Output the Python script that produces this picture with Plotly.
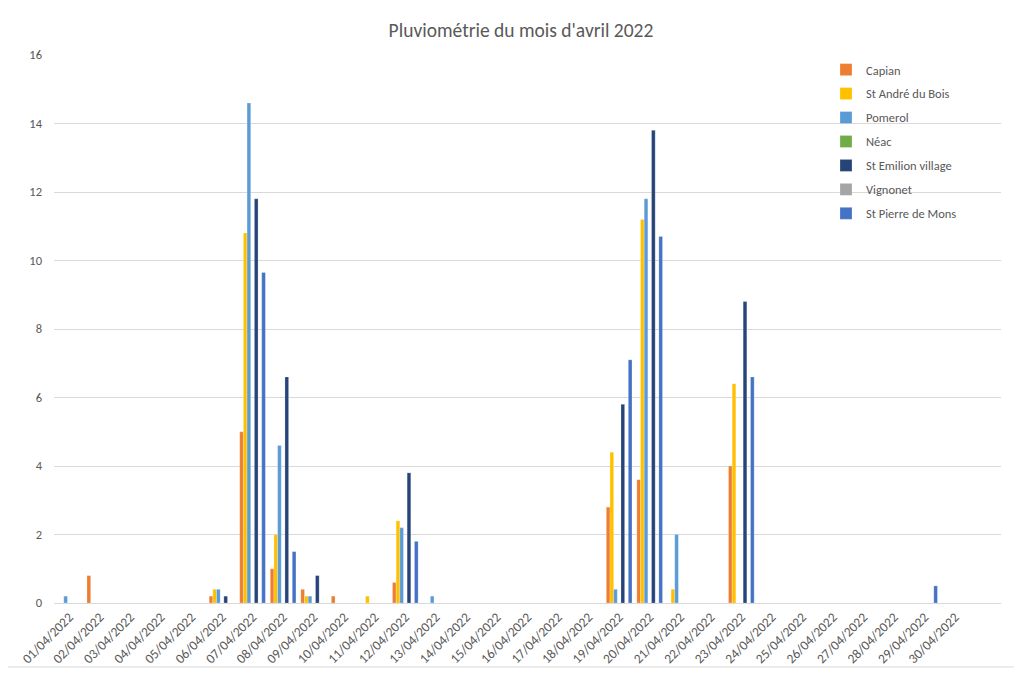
import plotly.graph_objects as go

dates = [f"{d:02d}/04/2022" for d in range(1, 31)]

series_names = ["Capian", "St André du Bois", "Pomerol", "Néac",
                "St Emilion village", "Vignonet", "St Pierre de Mons"]
series_colors = ["#ED7D31", "#FFC000", "#5B9BD5", "#70AD47",
                 "#264478", "#A5A5A5", "#4472C4"]

#            01   02   03 04 05  06   07   08   09   10   11   12   13  14 15 16 17 18  19   20   21   22  23  24 25 26 27 28  29  30
capian    = [0,   0.8, 0, 0, 0, 0.2, 5.0, 1.0, 0.4, 0.2, 0,   0.6, 0,  0, 0, 0, 0, 0, 2.8, 3.6, 0,   0, 4.0, 0, 0, 0, 0, 0, 0,   0]
st_andre  = [0,   0,   0, 0, 0, 0.4, 10.8, 2.0, 0.2, 0,  0.2, 2.4, 0,  0, 0, 0, 0, 0, 4.4, 11.2, 0.4, 0, 6.4, 0, 0, 0, 0, 0, 0,  0]
pomerol   = [0.2, 0,   0, 0, 0, 0.4, 14.6, 4.6, 0.2, 0,  0,   2.2, 0.2, 0, 0, 0, 0, 0, 0.4, 11.8, 2.0, 0, 0,   0, 0, 0, 0, 0, 0,  0]
neac      = [0] * 30
st_emilion = [0,  0,   0, 0, 0, 0.2, 11.8, 6.6, 0.8, 0,  0,   3.8, 0,  0, 0, 0, 0, 0, 5.8, 13.8, 0,   0, 8.8, 0, 0, 0, 0, 0, 0,  0]
vignonet  = [0] * 30
st_pierre = [0,   0,   0, 0, 0, 0,   9.65, 1.5, 0,  0,   0,   1.8, 0,  0, 0, 0, 0, 0, 7.1, 10.7, 0,   0, 6.6, 0, 0, 0, 0, 0, 0.5, 0]

series_values = [capian, st_andre, pomerol, neac, st_emilion, vignonet, st_pierre]

FONT = "Carlito, Calibri, Lato, sans-serif"
GRAY_TXT = "#595959"
GRID = "#D9D9D9"

fig = go.Figure()
for name, color, vals in zip(series_names, series_colors, series_values):
    fig.add_trace(go.Bar(
        x=dates, y=vals, name=name, legendgroup=name,
        marker=dict(color=color, line=dict(color="rgba(255,255,255,0.6)", width=0.4)),
    ))

# page has an 8px body margin; plot area in page pixels: left 54, right 1001, top 55, bottom 603
OFF = 8
L, R, T, B = 54, 1001, 55, 603
W, H = R - L, B - T
FW, FH = 1022, 673

def px(xp):
    return (xp - L) / W

def py(yp):
    return (B - yp) / H

fig.update_layout(
    width=FW, height=FH,
    margin=dict(l=L - OFF, r=FW - (R - OFF), t=T - OFF, b=FH - (B - OFF), pad=0),
    paper_bgcolor="white", plot_bgcolor="white",
    barmode="group", bargap=0.16, bargroupgap=0,
    font=dict(family=FONT, color=GRAY_TXT, size=12),
    title=dict(text="Pluviométrie du mois d'avril 2022",
               font=dict(family=FONT, size=19.5, color=GRAY_TXT),
               x=(521 - OFF) / FW, xanchor="center", y=1 - (30 - OFF) / FH, yanchor="middle"),
    xaxis=dict(type="category", range=[-0.5, 30.5], tickangle=-45,
               showgrid=False, showline=True, linecolor=GRID, linewidth=1,
               ticks="", tickfont=dict(size=13.5, color=GRAY_TXT), fixedrange=True),
    yaxis=dict(range=[0, 16], dtick=2, showgrid=True, gridcolor=GRID, gridwidth=1,
               zeroline=False, showline=False, ticks="", ticklabelstandoff=11,
               tickfont=dict(size=12.5, color=GRAY_TXT), fixedrange=True),
    legend=dict(x=px(826), xanchor="left", y=py(55), yanchor="top",
                bgcolor="rgba(0,0,0,0)", traceorder="grouped", tracegroupgap=4.7,
                font=dict(size=12.5, color=GRAY_TXT)),
    showlegend=True,
)

fig.add_shape(type="rect", xref="paper", yref="paper",
              x0=px(6), x1=px(1016), y0=py(667), y1=py(6),
              line=dict(color="#D9D9D9", width=1), fillcolor="rgba(0,0,0,0)", layer="below")

fig.write_html("out.html")
